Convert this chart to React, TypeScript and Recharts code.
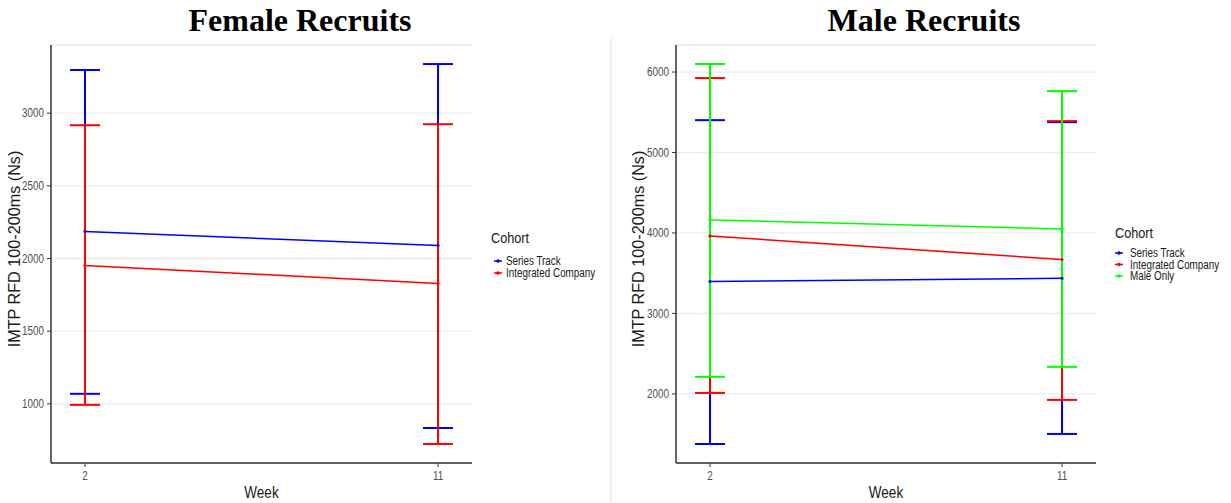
import React from 'react';
import { LineChart, Line, XAxis, YAxis, CartesianGrid, ErrorBar } from 'recharts';

const weeks = [2, 11];
const weekTicks = [2, 11];

// Female recruits
const femaleSeriesTrackMean = [2186, 2090];
const femaleSeriesTrackLow = [1069, 834];
const femaleSeriesTrackHigh = [3297, 3338];
const femaleIntegratedMean = [1952, 1828];
const femaleIntegratedLow = [993, 724];
const femaleIntegratedHigh = [2917, 2924];
const femaleYTicks = [1000, 1500, 2000, 2500, 3000];
const femaleYDomain = [593, 3469];
const femaleXDomain = [2 - 0.8669, 11 + 0.8669];

// Male recruits
const maleSeriesTrackMean = [3398, 3436];
const maleSeriesTrackLow = [1377, 1502];
const maleSeriesTrackHigh = [5402, 5377];
const maleIntegratedMean = [3963, 3670];
const maleIntegratedLow = [2012, 1925];
const maleIntegratedHigh = [5925, 5390];
const maleOnlyMean = [4162, 4050];
const maleOnlyLow = [2212, 2336];
const maleOnlyHigh = [6100, 5763];
const maleYTicks = [2000, 3000, 4000, 5000, 6000];
const maleYDomain = [1141, 6336];
const maleXDomain = [2 - 0.8693, 11 + 0.8693];

const FONT = "'Liberation Sans', Arial, Helvetica, sans-serif";
const SX = 0.82;
const BLUE = '#0000ff';
const RED = '#ff0000';
const GREEN = '#00ff00';

type Series = { key: string; name: string; color: string; mean: number[]; low: number[]; high: number[] };

const femaleSeries: Series[] = [
  { key: 'st', name: 'Series Track', color: BLUE, mean: femaleSeriesTrackMean, low: femaleSeriesTrackLow, high: femaleSeriesTrackHigh },
  { key: 'ic', name: 'Integrated Company', color: RED, mean: femaleIntegratedMean, low: femaleIntegratedLow, high: femaleIntegratedHigh },
];
const maleSeries: Series[] = [
  { key: 'st', name: 'Series Track', color: BLUE, mean: maleSeriesTrackMean, low: maleSeriesTrackLow, high: maleSeriesTrackHigh },
  { key: 'ic', name: 'Integrated Company', color: RED, mean: maleIntegratedMean, low: maleIntegratedLow, high: maleIntegratedHigh },
  { key: 'mo', name: 'Male Only', color: GREEN, mean: maleOnlyMean, low: maleOnlyLow, high: maleOnlyHigh },
];

const buildRows = (series: Series[]) =>
  weeks.map((w, i) => {
    const row: any = { week: w };
    series.forEach((s) => {
      row[s.key] = s.mean[i];
      row[s.key + 'Err'] = [s.mean[i] - s.low[i], s.high[i] - s.mean[i]];
    });
    return row;
  });

const femaleRows = buildRows(femaleSeries);
const maleRows = buildRows(maleSeries);

const XTick = (p: any) => (
  <g transform={`translate(${p.x},${p.y})`}>
    <text transform={`scale(${SX},1)`} x={0} y={0} dy={9} textAnchor="middle" fill="#4d4d4d" fontSize={12} fontFamily={FONT}>
      {p.payload.value}
    </text>
  </g>
);

const YTick = (p: any) => (
  <g transform={`translate(${p.x},${p.y})`}>
    <text transform={`scale(${SX},1)`} x={0} y={0} dy={4.2} textAnchor="end" fill="#4d4d4d" fontSize={12} fontFamily={FONT}>
      {p.payload.value}
    </text>
  </g>
);

function Panel(props: {
  rows: any[];
  series: Series[];
  domain: number[];
  xDomain: number[];
  ticks: number[];
  width: number;
  yAxisWidth: number;
  rightMargin: number;
  yLabelOffset: number;
}) {
  const { rows, series, domain, xDomain, ticks, width, yAxisWidth, rightMargin, yLabelOffset } = props;
  const yLabel = (p: any) => {
    const vb = p.viewBox || { x: 0, y: 45, width: yAxisWidth, height: 418 };
    const cx = yLabelOffset;
    const cy = vb.y + vb.height / 2 - 5;
    return (
      <text
        x={cx}
        y={cy}
        transform={`rotate(-90 ${cx} ${cy})`}
        textAnchor="middle"
        dominantBaseline="central"
        fill="#1a1a1a"
        fontSize={16.2}
        fontFamily={FONT}
      >
        IMTP RFD 100-200ms (Ns)
      </text>
    );
  };
  const xLabel = (p: any) => {
    const vb = p.viewBox || { x: yAxisWidth, y: 463, width: 420, height: 40 };
    const cx = vb.x + vb.width / 2;
    return (
      <g transform={`translate(${cx},498)`}>
        <text transform={`scale(${SX},1)`} x={0} y={0} textAnchor="middle" fill="#1a1a1a" fontSize={16.5} fontFamily={FONT}>
          Week
        </text>
      </g>
    );
  };
  return (
    <LineChart width={width} height={503} data={rows} margin={{ top: 45, right: rightMargin, bottom: 0, left: 0 }}>
      <CartesianGrid vertical={false} stroke="#ebebeb" strokeWidth={1.3} />
      <XAxis
        dataKey="week"
        type="number"
        domain={xDomain}
        ticks={weekTicks}
        allowDataOverflow
        height={40}
        axisLine={{ stroke: '#333333', strokeWidth: 1.5 }}
        tickLine={{ stroke: '#333333', strokeWidth: 1 }}
        tickSize={4}
        tickMargin={4}
        tick={XTick}
        label={xLabel}
      />
      <YAxis
        type="number"
        domain={domain}
        ticks={ticks}
        allowDataOverflow
        width={yAxisWidth}
        axisLine={{ stroke: '#333333', strokeWidth: 1.5 }}
        tickLine={{ stroke: '#333333', strokeWidth: 1 }}
        tickSize={4}
        tickMargin={3}
        tick={YTick}
        label={yLabel}
      />
      {series.map((s) => (
        <Line
          key={s.key}
          dataKey={s.key}
          name={s.name}
          stroke={s.color}
          strokeWidth={1.5}
          dot={{ r: 1.6, fill: s.color, stroke: s.color, strokeWidth: 0 }}
          activeDot={false}
          isAnimationActive={false}
        >
          <ErrorBar dataKey={s.key + 'Err'} width={15} stroke={s.color} strokeWidth={2} direction="y" isAnimationActive={false} />
        </Line>
      ))}
    </LineChart>
  );
}

function LegendBox(props: { series: Series[]; x: number; titleY: number; firstY: number; step: number; textX: number; keyX: number }) {
  const { series, x, titleY, firstY, step, textX, keyX } = props;
  return (
    <g>
      <g transform={`translate(${x},${titleY})`}>
        <text transform={`scale(${SX},1)`} x={0} y={0} fontSize={15.5} fill="#1a1a1a" fontFamily={FONT}>
          Cohort
        </text>
      </g>
      {series.map((s, i) => {
        const y = firstY + i * step;
        return (
          <g key={s.key}>
            <line x1={keyX - 4} x2={keyX + 4} y1={y - 4} y2={y - 4} stroke={s.color} strokeWidth={1.5} />
            <circle cx={keyX} cy={y - 4} r={1.8} fill={s.color} />
            <g transform={`translate(${textX},${y})`}>
              <text transform={`scale(${SX},1)`} x={0} y={0} fontSize={12} fill="#1a1a1a" fontFamily={FONT}>
                {s.name}
              </text>
            </g>
          </g>
        );
      })}
    </g>
  );
}

export default function App() {
  return (
    <div style={{ position: 'absolute', left: 0, top: 0, width: 1231, height: 503, background: '#ffffff', overflow: 'hidden' }}>
      <div style={{ position: 'absolute', left: 0, top: 0 }}>
        <Panel
          rows={femaleRows}
          series={femaleSeries}
          domain={femaleYDomain}
          xDomain={femaleXDomain}
          ticks={femaleYTicks}
          width={611}
          yAxisWidth={51}
          rightMargin={139}
          yLabelOffset={14}
        />
      </div>
      <div style={{ position: 'absolute', left: 611, top: 0 }}>
        <Panel
          rows={maleRows}
          series={maleSeries}
          domain={maleYDomain}
          xDomain={maleXDomain}
          ticks={maleYTicks}
          width={620}
          yAxisWidth={65}
          rightMargin={135}
          yLabelOffset={27}
        />
      </div>
      <svg width={1231} height={503} style={{ position: 'absolute', left: 0, top: 0, pointerEvents: 'none' }}>
        <line x1={611} x2={611} y1={38} y2={503} stroke="#e3e3e3" strokeWidth={1} />
        <text x={300} y={31} textAnchor="middle" fontFamily="'Liberation Serif', 'Times New Roman', serif" fontWeight="bold" fontSize={32} fill="#000">
          Female Recruits
        </text>
        <text x={924} y={31} textAnchor="middle" fontFamily="'Liberation Serif', 'Times New Roman', serif" fontWeight="bold" fontSize={32} fill="#000">
          Male Recruits
        </text>
        <LegendBox series={femaleSeries} x={491} titleY={243} firstY={265} step={12} textX={506} keyX={498} />
        <LegendBox series={maleSeries} x={1115} titleY={238} firstY={257} step={11.5} textX={1130} keyX={1119} />
      </svg>
    </div>
  );
}
